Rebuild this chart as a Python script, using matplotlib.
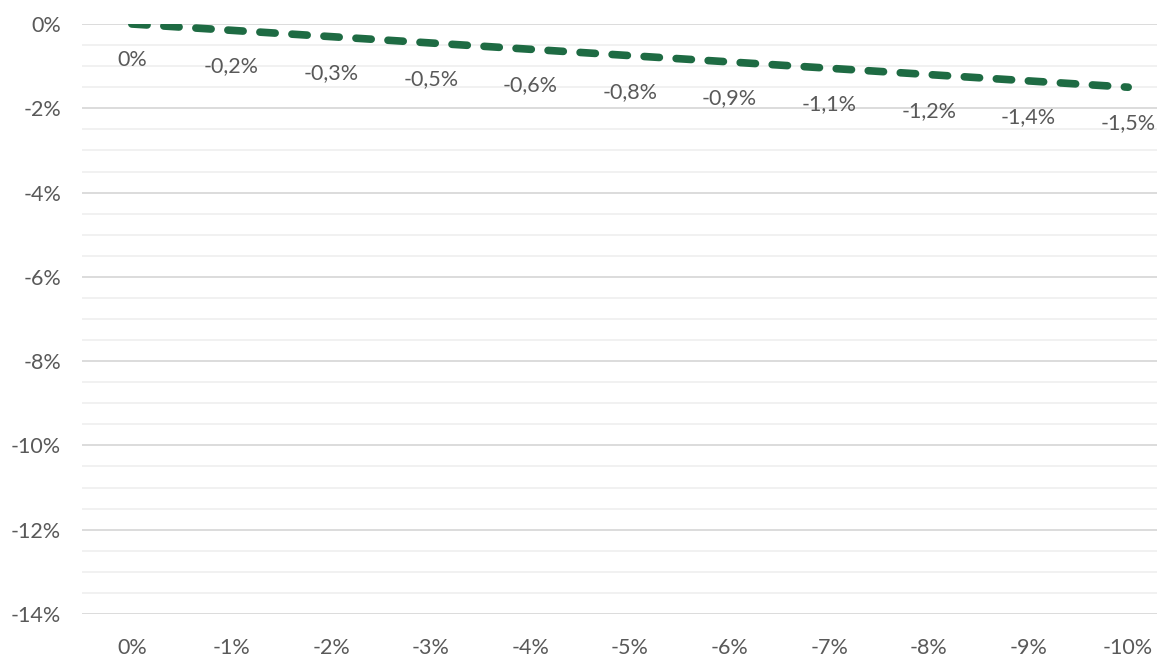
import numpy as np
import matplotlib
matplotlib.use('Agg')
import matplotlib.pyplot as plt
from matplotlib.ticker import MultipleLocator, FuncFormatter

# Datos
categorias = ['0%', '-1%', '-2%', '-3%', '-4%', '-5%', '-6%', '-7%', '-8%', '-9%', '-10%']
valores = [0.0, -0.15, -0.3, -0.45, -0.6, -0.75, -0.9, -1.05, -1.2, -1.35, -1.5]
etiquetas = ['0%', '-0,2%', '-0,3%', '-0,5%', '-0,6%', '-0,8%', '-0,9%',
             '-1,1%', '-1,2%', '-1,4%', '-1,5%']

gris = '#595959'
verde = '#1E6B43'

plt.rcParams['font.family'] = ['Lato', 'DejaVu Sans']

fig = plt.figure(figsize=(11.57, 6.56), dpi=100)
# eje con borde derecho fuera de la imagen (recortado como en el original)
ax = fig.add_axes([82 / 1157, 1 - 614 / 656, (1178 - 82) / 1157, (614 - 24) / 656])

x = np.arange(len(categorias))
ax.plot(x, valores, color=verde, linewidth=5.5, linestyle=(0, (2.0, 2.2)),
        dash_capstyle='round', solid_capstyle='round', zorder=3)

for xi, v, t in zip(x, valores, etiquetas):
    ax.annotate(t, (xi, v), xytext=(0, -26), textcoords='offset points',
                ha='center', va='center', fontsize=15.5, color=gris)

ax.set_xlim(-0.5, len(categorias) - 0.5)
ax.set_ylim(-14, 0)
ax.set_xticks(x)
ax.set_xticklabels(categorias)
ax.yaxis.set_major_locator(MultipleLocator(2))
ax.yaxis.set_minor_locator(MultipleLocator(0.5))
ax.yaxis.set_major_formatter(FuncFormatter(lambda v, p: f'{v:.0f}%'))

ax.grid(True, which='major', axis='y', color='#D9D9D9', linewidth=1.3)
ax.grid(True, which='minor', axis='y', color='#F0F0F0', linewidth=1.3)
ax.set_axisbelow(True)
for s in ax.spines.values():
    s.set_visible(False)
ax.tick_params(axis='both', which='both', length=0, labelsize=15.5, colors=gris)
ax.tick_params(axis='x', pad=17)
ax.tick_params(axis='y', pad=15)

fig.savefig('out.png', dpi=100)
